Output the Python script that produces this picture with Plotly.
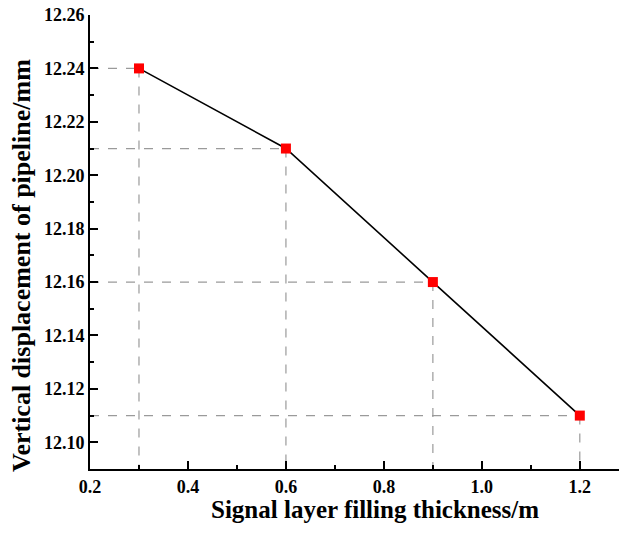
import plotly.graph_objects as go

thickness = [0.3, 0.6, 0.9, 1.2]
displacement = [12.24, 12.21, 12.16, 12.11]
x_ticks = [0.2, 0.4, 0.6, 0.8, 1.0, 1.2]
x_labels = ["0.2", "0.4", "0.6", "0.8", "1.0", "1.2"]
y_ticks = [12.10, 12.12, 12.14, 12.16, 12.18, 12.20, 12.22, 12.24, 12.26]
y_labels = ["12.10", "12.12", "12.14", "12.16", "12.18", "12.20", "12.22", "12.24", "12.26"]
x_title = "Signal layer filling thickness/m"
y_title = "Vertical displacement of pipeline/mm"

X_MIN, X_MAX = 0.2, 1.28
Y_MIN, Y_MAX = 12.09, 12.26

# drop lines built from data
gx, gy = [], []
for x, y in zip(thickness, displacement):
    gx += [X_MIN, x, None, x, x, None]
    gy += [y, y, None, y, Y_MIN, None]

font_family = "Liberation Serif"
fig = go.Figure()
fig.add_trace(go.Scatter(x=gx, y=gy, mode="lines",
                         line=dict(color="#9a9a9a", width=1.2, dash="dash"),
                         hoverinfo="skip", showlegend=False))
fig.add_trace(go.Scatter(x=thickness, y=displacement, mode="lines+markers",
                         line=dict(color="black", width=1.6),
                         marker=dict(symbol="square", size=10, color="#ff0000"),
                         showlegend=False))

fig.update_layout(
    width=619, height=535,
    margin=dict(l=90, r=0, t=15, b=66),
    plot_bgcolor="white", paper_bgcolor="white",
    font=dict(family=font_family, color="black"),
    xaxis=dict(range=[X_MIN, X_MAX], tickvals=x_ticks,
               ticktext=["<b>%s</b>" % t for t in x_labels],
               showgrid=False, zeroline=False, showline=True, linecolor="black", linewidth=2,
               ticks="inside", ticklen=8, tickwidth=2, tickcolor="black",
               minor=dict(tickvals=[0.3, 0.5, 0.7, 0.9, 1.1], ticks="inside", ticklen=4, tickwidth=2, tickcolor="black"),
               tickfont=dict(size=18, family=font_family, color="black")),
    yaxis=dict(range=[Y_MIN, Y_MAX], tickvals=y_ticks,
               ticktext=["<b>%s</b>" % t for t in y_labels],
               showgrid=False, zeroline=False, showline=True, linecolor="black", linewidth=2,
               ticks="inside", ticklen=8, tickwidth=2, tickcolor="black",
               minor=dict(tickvals=[12.11, 12.13, 12.15, 12.17, 12.19, 12.21, 12.23, 12.25], ticks="inside", ticklen=4, tickwidth=2, tickcolor="black"),
               tickfont=dict(size=18, family=font_family, color="black")),
    annotations=[
        dict(text="<b>%s</b>" % x_title, xref="paper", yref="paper",
             x=(375 - 90) / (619 - 90), y=-(510 - 469) / (469 - 15),
             xanchor="center", yanchor="middle", showarrow=False,
             font=dict(size=25, family=font_family, color="black")),
        dict(text="<b>%s</b>" % y_title, xref="paper", yref="paper",
             x=-(90 - 21) / (619 - 90), y=(469 - 266) / (469 - 15),
             xanchor="center", yanchor="middle", showarrow=False, textangle=-90,
             font=dict(size=26, family=font_family, color="black")),
    ],
)

fig.write_html("out.html")
